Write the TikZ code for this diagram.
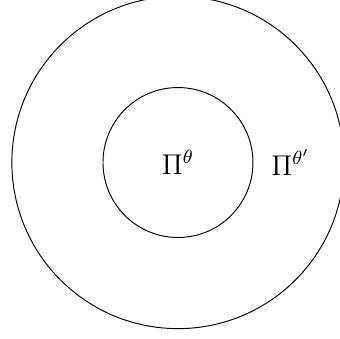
\documentclass[tikz,border=0pt]{standalone}
\usepackage{amsmath,amssymb}
\usetikzlibrary{positioning}
\tikzset{
  policyset/.style={circle,draw,inner sep=0pt},
  every node/.style={font=\large}
}

\begin{document}
\begin{tikzpicture}
        \useasboundingbox (-2.625,-2.603) rectangle (2.375,2.397);
        \node[policyset,minimum size=4.9cm] (outerset) at (0,0) {};
        \node[policyset,minimum size=2.212cm] (innerset) at (0,0) {$\Pi^{\theta}$};
        \node[right=0.14cm of innerset] (outerlabel) {$\Pi^{\theta'}$};
      \end{tikzpicture}
\end{document}
